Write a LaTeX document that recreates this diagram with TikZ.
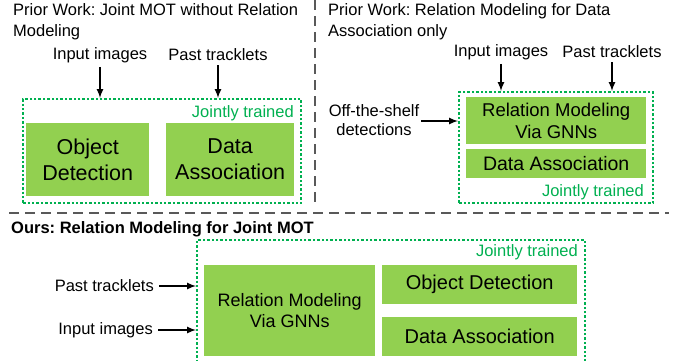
\documentclass[tikz,border=0pt]{standalone}
\usepackage{fontspec}
\setmainfont{Liberation Sans}
\frenchspacing
\definecolor{modgreen}{HTML}{92D050}
\definecolor{jointgreen}{HTML}{00B050}
\definecolor{sepgray}{HTML}{595959}
\tikzset{
  module/.style={fill=modgreen, anchor=north west, align=center, inner sep=0pt},
  jointbox/.style={draw=jointgreen, line width=2.4pt, dash pattern=on 2.4pt off 2pt, anchor=north west, inner sep=0pt},
  jtlabel/.style={text=jointgreen, anchor=east},
  paneltitle/.style={anchor=north west, align=left},
  divider/.style={draw=sepgray, line width=1.8pt, dash pattern=on 10pt off 6pt},
  feed/.style={->, line width=2pt},
}
\begin{document}
\begin{tikzpicture}[>=latex, x=1pt, y=-1pt,
  every node/.style={inner sep=0pt, font=\fontsize{16.5}{21}\selectfont}]
\useasboundingbox (0,0) rectangle (678,360);
\clip (0,0) rectangle (678,360);
% dividers
\draw[divider] (315,0)--(315,207);
\draw[divider] (9,213)--(669,213);

% prior work, left
\node[paneltitle] (titleL) at (13,3) {Prior Work: Joint MOT without Relation\\Modeling};
\node (inL) at (100,55) {Input images};
\node (ptL) at (218,55) {Past tracklets};
\node[jointbox, minimum width=278pt, minimum height=104pt] (jtL) at (22,98) {};
\node[jtlabel] (jtLlab) at (294,113) {Jointly trained};
\node[module, minimum width=123pt, minimum height=73pt, font=\fontsize{21.5}{26}\selectfont] (odL) at (26,123) {Object\\Detection};
\node[module, minimum width=128pt, minimum height=73pt, font=\fontsize{21.5}{26}\selectfont] (daL) at (166,123) {Data\\Association};
\draw[feed, shorten <=4pt] (inL)--(inL |- jtL.north);
\draw[feed, shorten <=4pt] (ptL)--(ptL |- jtL.north);

% prior work, right
\node[paneltitle] (titleR) at (328,3) {Prior Work: Relation Modeling for Data\\Association only};
\node (inR) at (501,52) {Input images};
\node (ptR) at (612,52) {Past tracklets};
\node[align=center, font=\fontsize{16.5}{19}\selectfont] (offR) at (374,120) {Off-the-shelf\\detections};
\node[jointbox, minimum width=194pt, minimum height=111pt] (jtR) at (458,91) {};
\node[module, minimum width=180pt, minimum height=47pt, font=\fontsize{18.5}{22}\selectfont] (rmR) at (466,97) {Relation Modeling\\Via GNNs};
\node[module, minimum width=180pt, minimum height=29pt, font=\fontsize{19.5}{22}\selectfont] (daR) at (466,149) {Data Association};
\node[jtlabel] (jtRlab) at (644,192) {Jointly trained};
\draw[feed, shorten <=4pt] (inR)--(inR |- jtR.north);
\draw[feed, shorten <=4pt] (ptR)--(ptR |- jtR.north);
\draw[feed, shorten <=2pt] ([yshift=-1pt]offR.east)--([yshift=-1pt]offR.east -| jtR.west);

% ours
\node[paneltitle, font=\fontsize{16.5}{21}\selectfont\bfseries] (titleB) at (11,221) {Ours: Relation Modeling for Joint MOT};
\node[jointbox, minimum width=388pt, minimum height=200pt] (jtB) at (196,239) {};
\node[jtlabel] (jtBlab) at (578,252) {Jointly trained};
\node[module, minimum width=171pt, minimum height=91pt, font=\fontsize{18}{21}\selectfont] (rmB) at (204,265) {Relation Modeling\\Via GNNs};
\node[module, minimum width=195pt, minimum height=39pt, font=\fontsize{20}{24}\selectfont] (odB) at (382,265) {Object Detection};
\node[module, minimum width=195pt, minimum height=39pt, font=\fontsize{20}{24}\selectfont] (daB) at (382,317) {Data Association};
\node[anchor=east] (ptB) at (154,286) {Past tracklets};
\node[anchor=east] (inB) at (153,330) {Input images};
\draw[feed, shorten <=5pt] (ptB.east)--(ptB.east -| jtB.west);
\draw[feed, shorten <=5pt] (inB.east)--(inB.east -| jtB.west);
\end{tikzpicture}
\end{document}
